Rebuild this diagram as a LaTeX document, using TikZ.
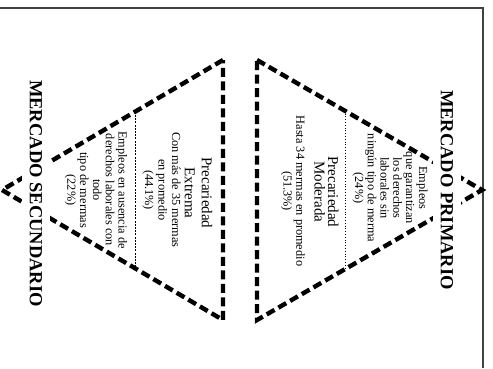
\documentclass[tikz,border=0pt]{standalone}
\usepackage{fontspec}
\setmainfont{Liberation Serif}
\usetikzlibrary{calc}
\begin{document}
\begin{tikzpicture}[x=1pt,y=-1pt,
  tri/.style={line width=4.4pt, dash pattern=on 9pt off 4.5pt, line join=miter},
  sepdot/.style={line width=0.8pt, dotted},
  sepdash/.style={line width=0.7pt, dash pattern=on 2pt off 1.2pt},
  title/.style={rotate=-90, fill=white, inner xsep=4pt, inner ysep=8pt, font=\fontsize{18.5}{22}\selectfont\bfseries},
  body/.style={rotate=-90, align=center, inner sep=0pt, font=\fontsize{12.3}{12.8}\selectfont},
  head/.style={rotate=-90, align=center, inner sep=0pt, font=\fontsize{15}{15}\selectfont},
  frame/.style={line width=1.3pt, black!75}]
\useasboundingbox (0,0) rectangle (493,368);
% page frame
\coordinate (f1) at (0,8);
\coordinate (f2) at (483,8);
\coordinate (f3) at (483,368);
\draw[frame] (f1) -- (f2) -- (f3);
% primary triangle
\coordinate (pA) at (257,60);
\coordinate (pB) at (482,190);
\coordinate (pC) at (257,320);
\draw[tri] (pA) -- (pB) -- (pC) -- cycle;
\coordinate (pD1) at ($(pA)!0.391!(pB)$);
\coordinate (pD2) at ($(pC)!0.391!(pB)$);
\draw[sepdot] (pD1) -- (pD2);
% secondary triangle
\coordinate (sA) at (223,60);
\coordinate (sB) at (2,190);
\coordinate (sC) at (223,320);
\draw[tri] (sA) -- (sB) -- (sC) -- cycle;
\coordinate (sD1) at ($(sA)!0.398!(sB)$);
\coordinate (sD2) at ($(sC)!0.398!(sB)$);
\draw[sepdash] (sD1) -- (sD2);
% titles
\node[title] (tp) at (447,190) {MERCADO PRIMARIO};
\node[title] (ts) at (36,193.5) {MERCADO SECUNDARIO};
% primary texts
\node[body] (p1) at (390,188) {Empleos\\que garantizan\\los derechos\\laborales sin\\ningún tipo de merma\\(24\%)};
\node[head, font=\fontsize{15}{13.5}\selectfont] (p2) at (326.5,192) {Precariedad\\Moderada};
\node[body] (p3) at (293,191) {Hasta 34 mermas en promedio\\(51.3\%)};
% secondary texts
\node[head, font=\fontsize{15}{17}\selectfont] (s1) at (198.5,193) {Precariedad\\Extrema};
\node[body, font=\fontsize{12.3}{13.5}\selectfont] (s2) at (161.5,190) {Con más de 35 mermas\\en promedio\\(44.1\%)};
\node[body] (s3) at (96,190) {Empleos en ausencia de\\derechos laborales con\\todo\\tipo de mermas\\(22\%)};
\end{tikzpicture}
\end{document}
